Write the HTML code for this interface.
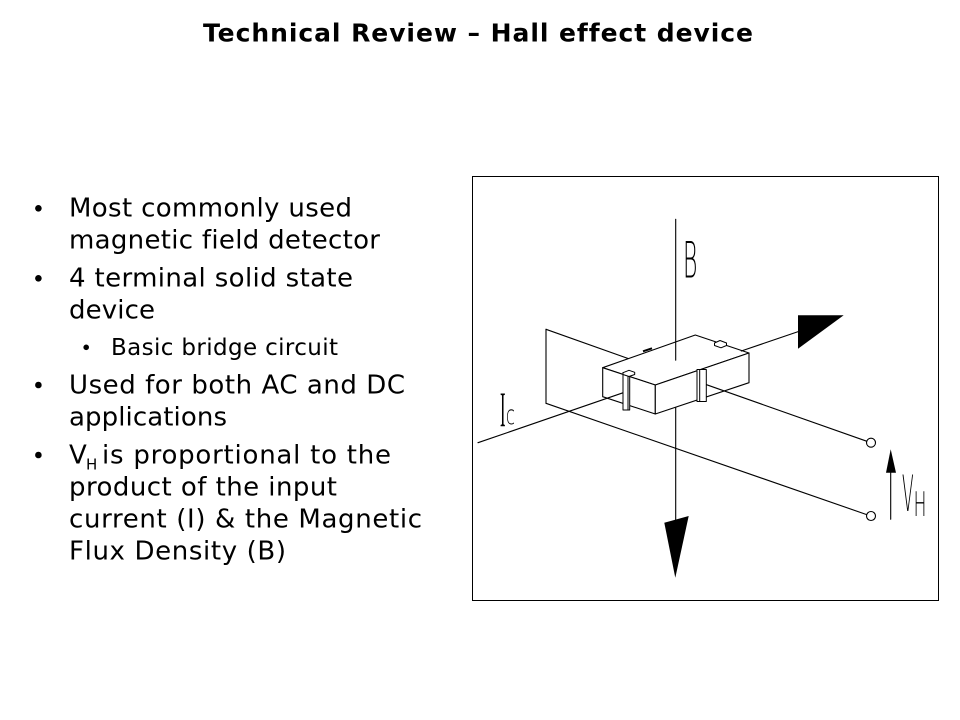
<!DOCTYPE html>
<html>
<head>
<meta charset="utf-8">
<style>
html,body{margin:0;padding:0;background:#fff;}
svg{display:block;}
text{font-variant-ligatures:none;font-feature-settings:"liga" 0,"clig" 0;}
.t{font-family:"DejaVu Sans","Liberation Sans",sans-serif;fill:#000;}
.cad{font-family:"DejaVu Sans","Liberation Sans",sans-serif;font-weight:200;fill:#000;}
</style>
</head>
<body>
<svg width="960" height="720" viewBox="0 0 960 720" xmlns="http://www.w3.org/2000/svg">
<rect x="0" y="0" width="960" height="720" fill="#fff"/>

<!-- Title -->
<text class="t" x="203" y="41.7" font-size="25" font-weight="bold" textLength="550" lengthAdjust="spacing">Technical Review – Hall effect device</text>

<!-- Bullets -->
<g fill="#000">
<circle cx="38.4" cy="208.3" r="3.3"/>
<circle cx="38.4" cy="278.3" r="3.3"/>
<circle cx="86.2" cy="347.3" r="2.8"/>
<circle cx="38.4" cy="385" r="3.3"/>
<circle cx="38.4" cy="455" r="3.3"/>
</g>
<g font-size="26">
<text class="t" x="69" y="216.7" textLength="283" lengthAdjust="spacing">Most commonly used</text>
<text class="t" x="69" y="248.7" textLength="311" lengthAdjust="spacing">magnetic field detector</text>
<text class="t" x="69" y="286.7" textLength="284" lengthAdjust="spacing">4 terminal solid state</text>
<text class="t" x="69" y="318.7" textLength="86" lengthAdjust="spacing">device</text>
<text class="t" x="69" y="393.3" textLength="336" lengthAdjust="spacing">Used for both AC and DC</text>
<text class="t" x="69" y="425.3" textLength="158" lengthAdjust="spacing">applications</text>
<text class="t" x="69" y="463.3">V</text>
<text class="t" x="86" y="469.5" font-size="15">H</text>
<text class="t" x="102" y="463.3" textLength="289" lengthAdjust="spacing">is proportional to the</text>
<text class="t" x="69" y="495.3" textLength="268" lengthAdjust="spacing">product of the input</text>
<text class="t" x="69" y="527.3" textLength="353" lengthAdjust="spacing">current (I) &amp; the Magnetic</text>
<text class="t" x="69" y="559.3" textLength="217" lengthAdjust="spacing">Flux Density (B)</text>
</g>
<text class="t" x="111" y="355" font-size="23" textLength="227" lengthAdjust="spacing">Basic bridge circuit</text>

<!-- Diagram frame -->
<rect x="472.5" y="176.5" width="466" height="424" fill="none" stroke="#000" stroke-width="1"/>

<g stroke="#000" stroke-width="1.1" fill="none" stroke-linecap="round">
  <!-- plane -->
  <line x1="546" y1="329.3" x2="546" y2="403.3"/>
  <line x1="546" y1="329.3" x2="640" y2="362.7"/>
  <!-- lower wire (plane bottom edge) -->
  <line x1="546" y1="403.3" x2="866.7" y2="514.6"/>
  <!-- B axis lower -->
  <line x1="675.7" y1="405" x2="675.7" y2="560"/>
</g>

<!-- Block -->
<g stroke="#000" stroke-width="1.1" fill="#fff" stroke-linejoin="round">
  <polygon points="602.7,367.7 695.3,335 749,353 655.3,385"/>
  <polygon points="602.7,367.7 655.3,385 655.3,414 602.7,396.7"/>
  <polygon points="655.3,385 749,353 749,382.7 655.3,414"/>
</g>

<g stroke="#000" stroke-width="1.1" fill="none" stroke-linecap="round">
  <!-- B axis upper -->
  <line x1="675.7" y1="219.3" x2="675.7" y2="360.2"/>
  <!-- Ic axis -->
  <line x1="478" y1="442.7" x2="624.7" y2="392.2"/>
  <line x1="741.3" y1="351" x2="800" y2="331"/>
  <!-- upper wire -->
  <line x1="704" y1="383.8" x2="866.6" y2="441.2"/>
  <!-- VH arrow shaft -->
  <line x1="890.7" y1="519.3" x2="890.7" y2="470"/>
</g>

<!-- contacts -->
<g stroke="#000" stroke-width="1" fill="#fff" stroke-linejoin="round">
  <rect x="623" y="372.5" width="6.7" height="37.5"/>
  <line x1="628" y1="373" x2="628" y2="410"/>
  <polygon points="623,372.7 629,370.3 634.7,372.3 634.7,374.5 629,376.5 623,374.5"/>
  <rect x="697" y="369.5" width="9.3" height="32"/>
  <line x1="699.7" y1="370" x2="699.7" y2="401.5"/>
  <polygon points="714.5,343 720,340.5 726.5,343 726.5,345.5 721,347.8 714.5,345.5"/>
</g>
<line x1="643" y1="351.3" x2="652" y2="348.3" stroke="#000" stroke-width="2"/>

<!-- terminals -->
<circle cx="871" cy="442.7" r="4.5" fill="#fff" stroke="#000" stroke-width="1.1"/>
<circle cx="871" cy="516" r="4.5" fill="#fff" stroke="#000" stroke-width="1.1"/>

<!-- arrowheads -->
<g fill="#000">
  <polygon points="664.3,522.7 688.7,516 675.3,577.7"/>
  <polygon points="798,315.3 843.7,315.3 798,348.7"/>
  <polygon points="886,472.7 896,472.7 890.7,449.3"/>
</g>

<!-- CAD labels -->
<text class="cad" font-size="50" transform="translate(683,277.7) scale(0.44,1)">B</text>
<text font-family="'Liberation Serif',serif" font-weight="normal" fill="#000" font-size="50" transform="translate(500,426) scale(0.33,1)">I</text>
<text class="cad" font-size="27" transform="translate(506,424) scale(0.6,1)">c</text>
<text class="cad" font-size="50" transform="translate(902,511) scale(0.34,1)">V</text>
<text class="cad" font-size="34" transform="translate(913.6,516) scale(0.5,1)">H</text>
</svg>
</body>
</html>
